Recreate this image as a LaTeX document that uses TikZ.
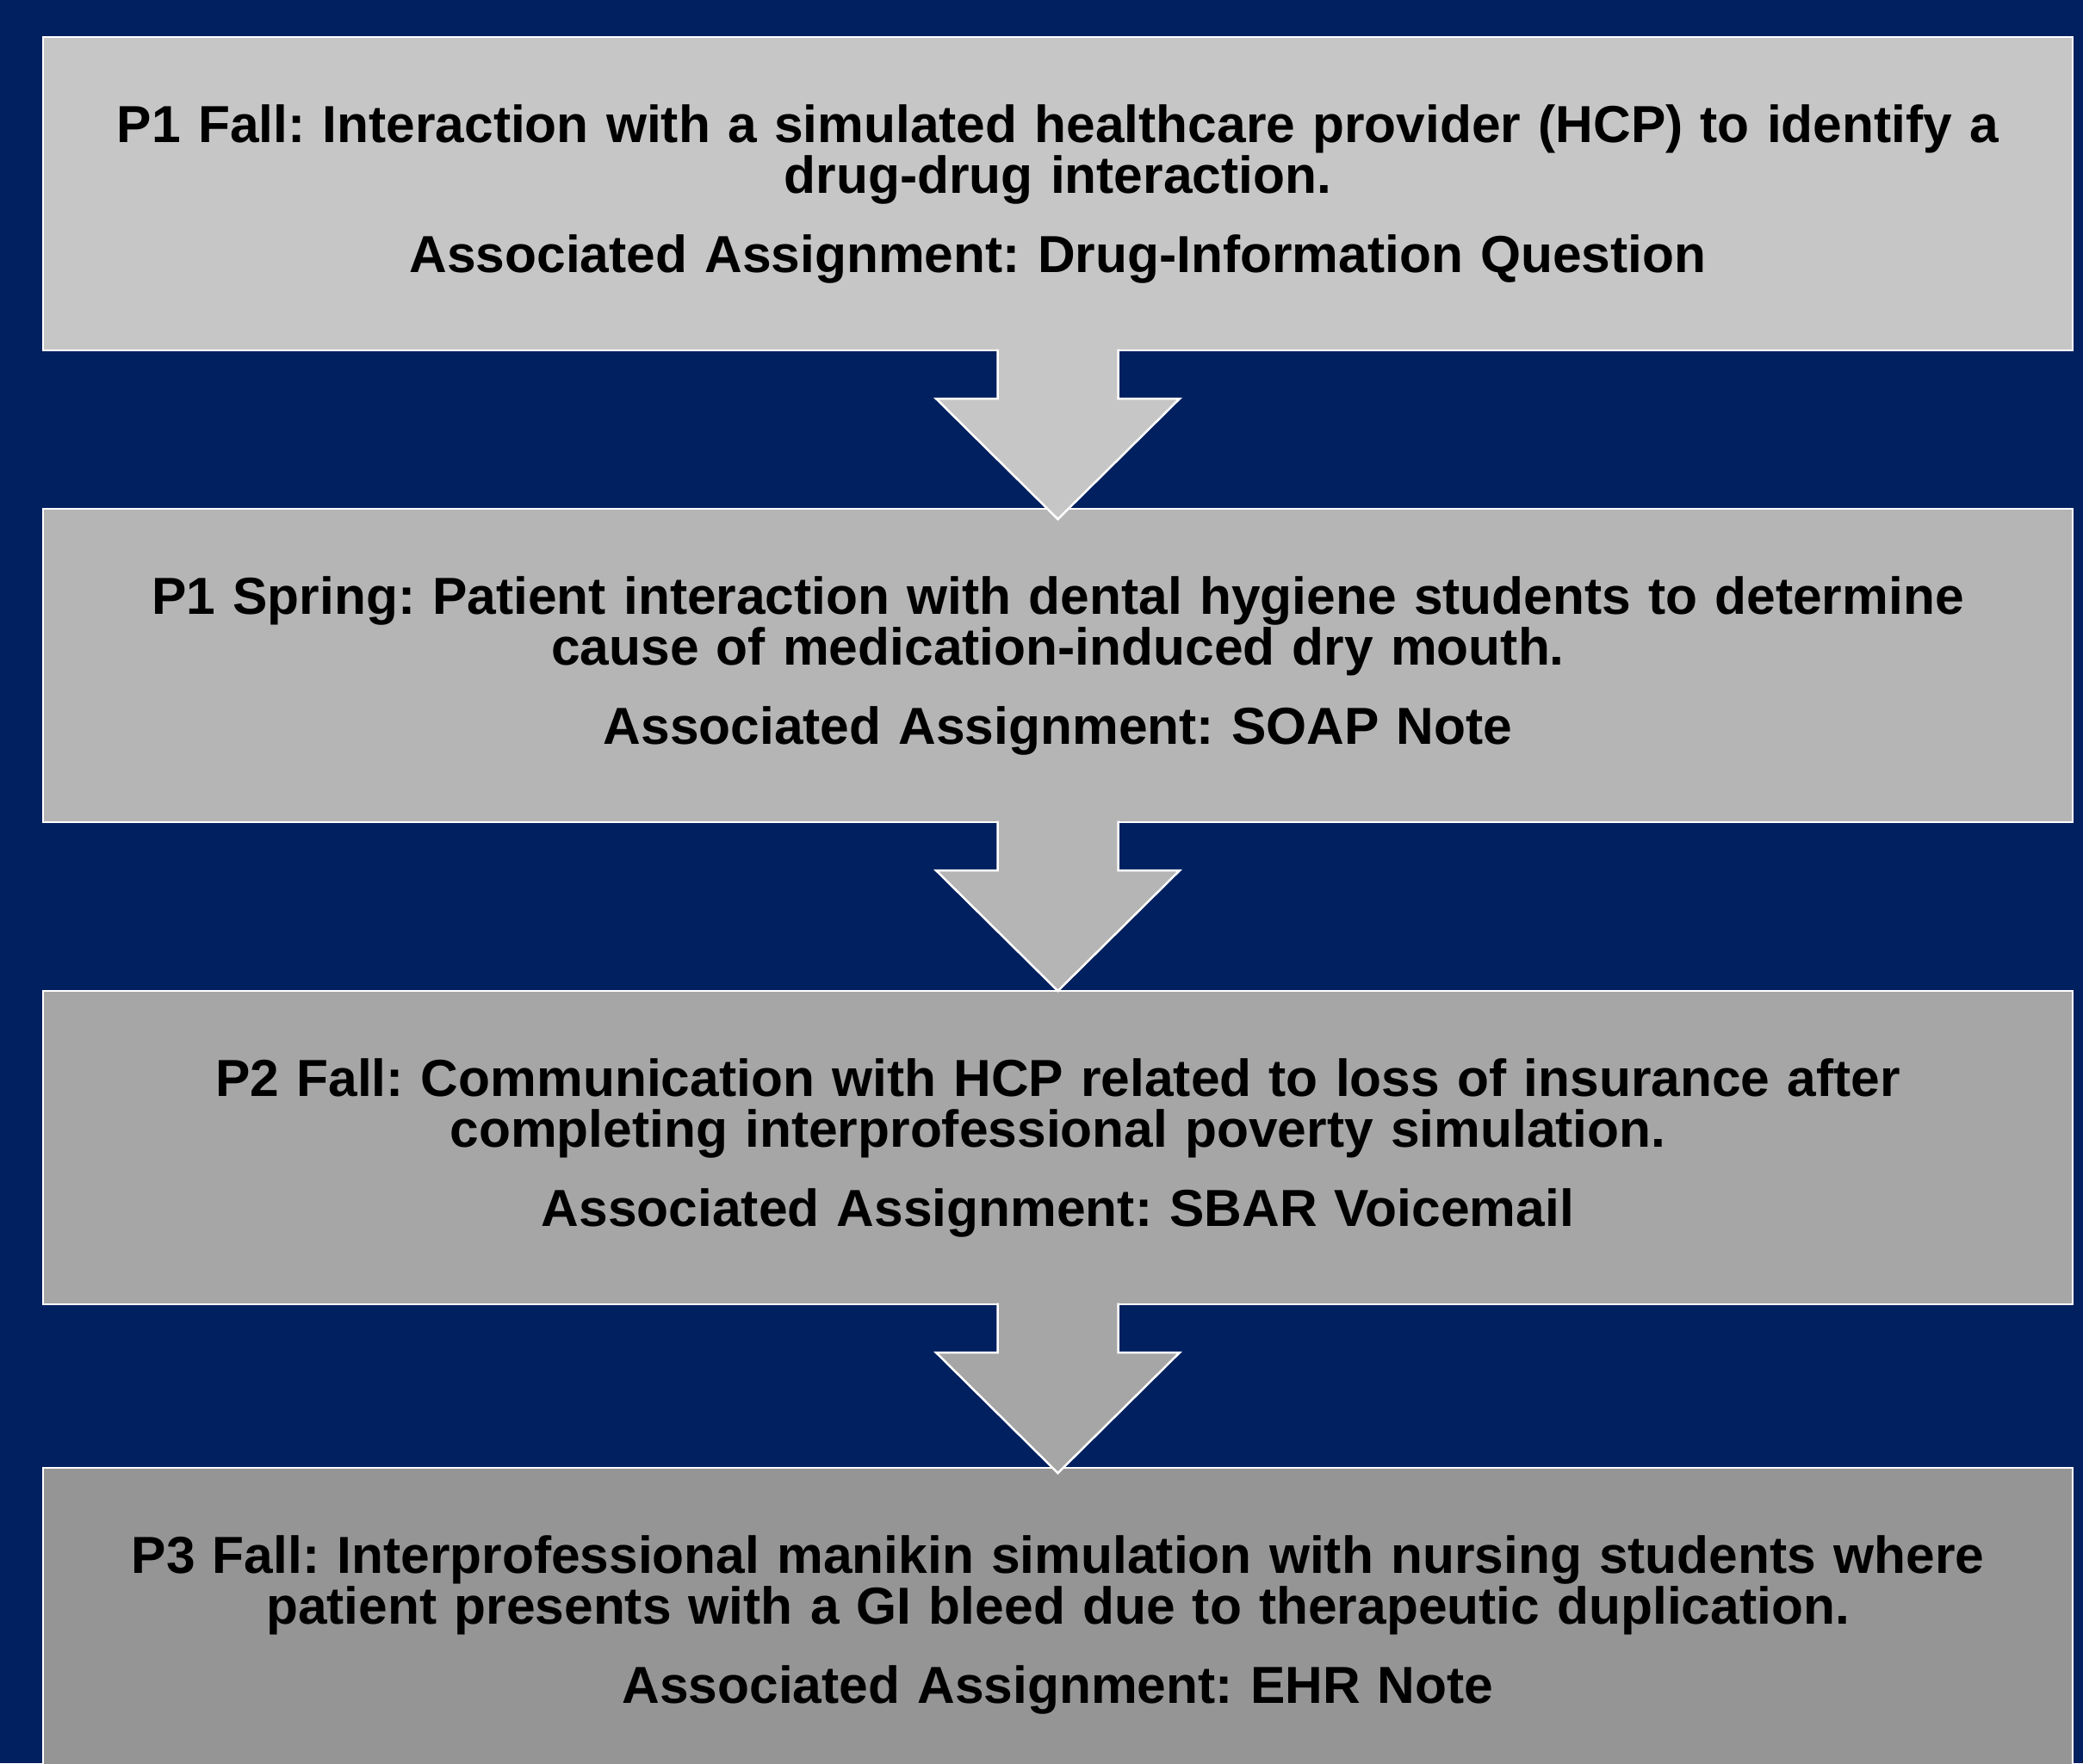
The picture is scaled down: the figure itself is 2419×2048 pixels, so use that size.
\documentclass[tikz,border=0pt]{standalone}
\usepackage{fontspec}
\setmainfont{Liberation Sans}
\usepackage{xcolor}
\usetikzlibrary{positioning}
\frenchspacing

\definecolor{navybg}{RGB}{0,32,96}
\definecolor{shadeA}{RGB}{198,198,198}
\definecolor{shadeB}{RGB}{181,181,181}
\definecolor{shadeC}{RGB}{166,166,166}
\definecolor{shadeD}{RGB}{149,149,149}

\begin{document}
\begin{tikzpicture}[x=1pt, y=-1pt,
		stage/.style={rectangle, draw=white, line width=2pt, outer sep=0pt, inner sep=0pt,
			minimum width=2357pt, minimum height=364pt, text width=2300pt, align=center,
			font=\fontsize{60.5}{59}\selectfont\bfseries},
		downarrow/.style={draw=white, line width=2.5pt, line join=miter}]
			% page and background
			\clip (0,0) rectangle (2419,2048);
			\fill[navybg] (0,0) rectangle (2419,2048);
			
			\node[stage, fill=shadeA] (p1fall) at (1228.5,225)
				{P1 Fall: Interaction with a simulated healthcare provider (HCP) to identify a\\
				drug-drug interaction.\\[33pt]
				Associated Assignment: Drug-Information Question};
			\node[stage, fill=shadeB, below = 184pt of p1fall] (p1spring)
				{P1 Spring: Patient interaction with dental hygiene students to determine\\
				cause of medication-induced dry mouth.\\[33pt]
				Associated Assignment: SOAP Note};
			\node[stage, fill=shadeC, below = 196pt of p1spring] (p2fall)
				{P2 Fall: Communication with HCP related to loss of insurance after\\
				completing interprofessional poverty simulation.\\[33pt]
				Associated Assignment: SBAR Voicemail};
			\node[stage, fill=shadeD, below = 190pt of p2fall] (p3fall)
				{P3 Fall: Interprofessional manikin simulation with nursing students where\\
				patient presents with a GI bleed due to therapeutic duplication.\\[33pt]
				Associated Assignment: EHR Note};
			
			% block arrows between the stages
			\filldraw[downarrow, fill=shadeA] ([xshift=-70pt, yshift=1.5pt]p1fall.south) -- ++(0,57.5) -- ++(-71.5,0) -- ++(141.5,140) -- ++(141.5,-140) -- ++(-71.5,0) -- ++(0,-57.5);
			\filldraw[downarrow, fill=shadeB] ([xshift=-70pt, yshift=1.5pt]p1spring.south) -- ++(0,57.5) -- ++(-71.5,0) -- ++(141.5,140) -- ++(141.5,-140) -- ++(-71.5,0) -- ++(0,-57.5);
			\filldraw[downarrow, fill=shadeC] ([xshift=-70pt, yshift=1.5pt]p2fall.south) -- ++(0,57.5) -- ++(-71.5,0) -- ++(141.5,140) -- ++(141.5,-140) -- ++(-71.5,0) -- ++(0,-57.5);
			
		\end{tikzpicture}
\end{document}
